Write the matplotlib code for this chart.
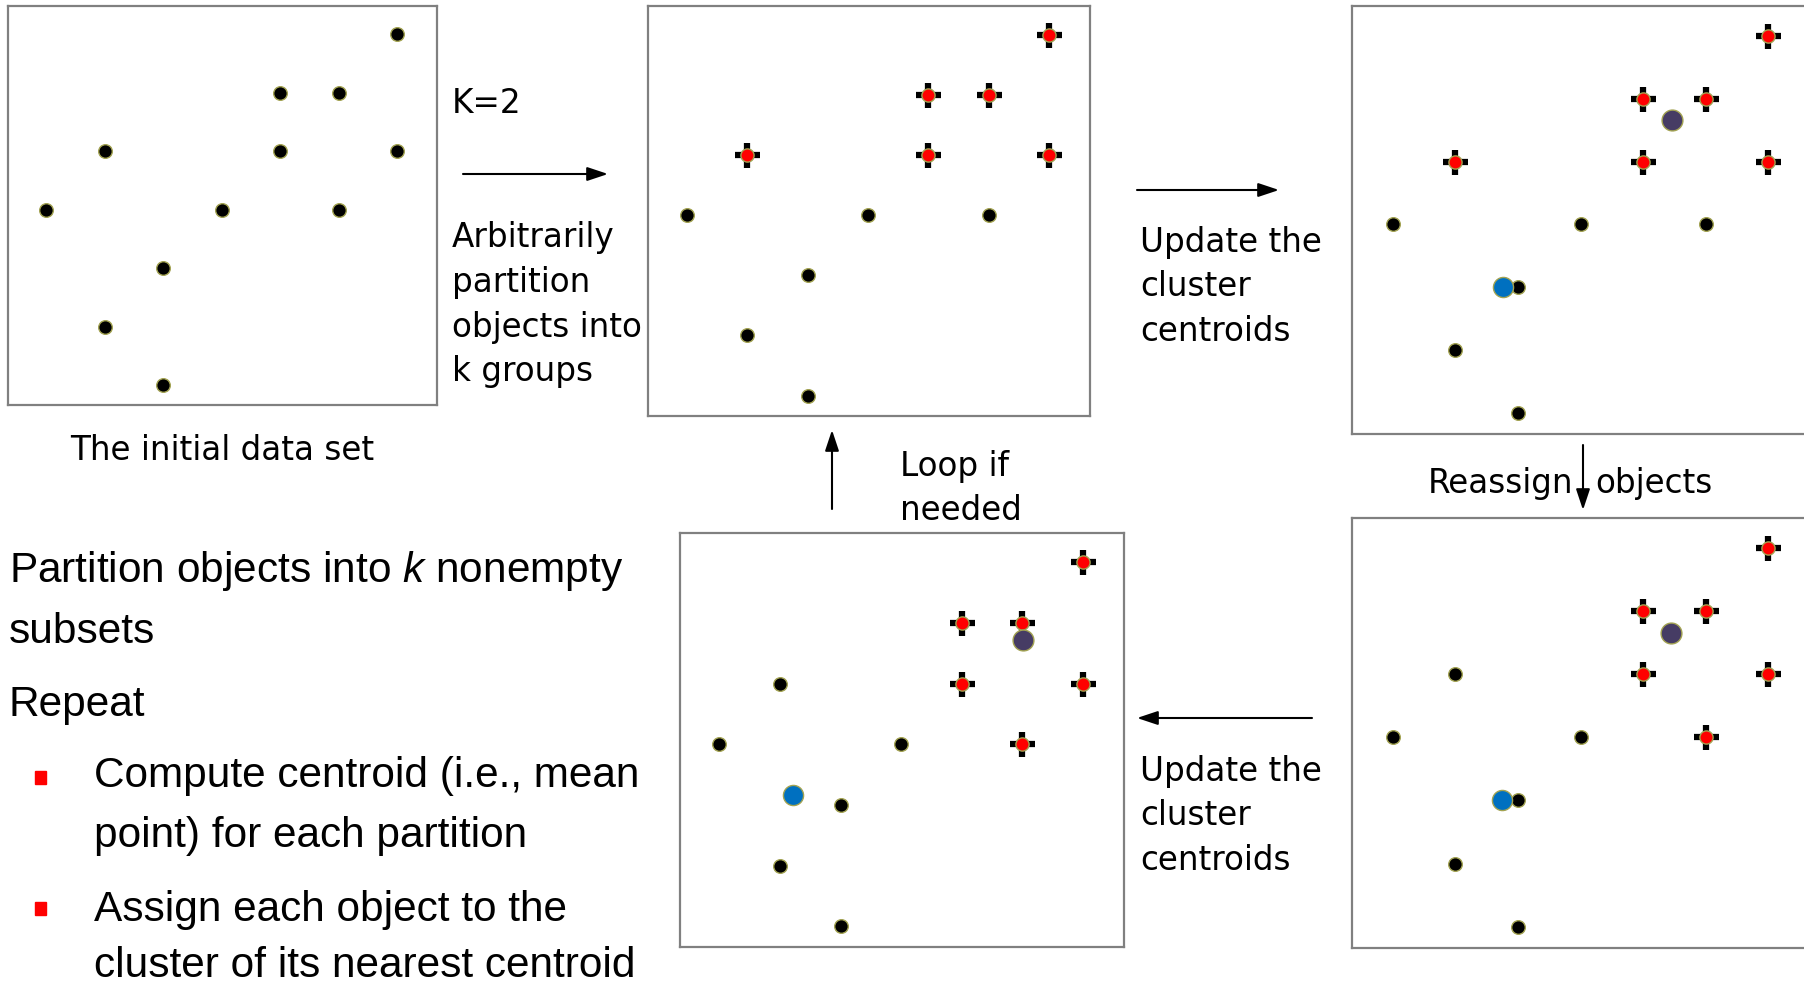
import matplotlib
matplotlib.use('Agg')
import matplotlib.pyplot as plt
from matplotlib.patches import Rectangle

W, H = 1804, 985

# grid positions of the 12 objects (column, row counted from the top)
pts_x = [6, 4, 5, 1, 4, 6, 0, 3, 5, 2, 1, 2]
pts_y = [0, 1, 1, 2, 2, 2, 3, 3, 3, 4, 5, 6]

# cluster of each object: 1 = red cluster, 0 = black cluster, None = unassigned
labels_initial = [None] * 12
labels_first = [1, 1, 1, 1, 1, 1, 0, 0, 0, 0, 0, 0]
labels_reassigned = [1, 1, 1, 0, 1, 1, 0, 0, 1, 0, 0, 0]

# centroids (dark, blue)
cent_update1_x = [4.46, 1.76]
cent_update1_y = [1.34, 3.99]
cent_reassign_x = [4.45, 1.75]
cent_reassign_y = [1.34, 4.00]
cent_update2_x = [5.01, 1.22]
cent_update2_y = [1.29, 3.83]

plt.rcParams['mathtext.fontset'] = 'custom'
plt.rcParams['mathtext.it'] = 'Liberation Sans:italic'
plt.rcParams['mathtext.rm'] = 'Liberation Sans'

LABEL_FONT = dict(family='DejaVu Sans', size=23.5, color='black')
BODY_FONT = dict(family='Liberation Sans', size=30.5, color='black')
EDGE = '#a3a352'

fig = plt.figure(figsize=(W / 100, H / 100), dpi=100)
fig.patch.set_facecolor('white')

# background axes in pixel coordinates for texts and arrows
bg = fig.add_axes([0, 0, 1, 1], zorder=0)
bg.set_xlim(0, W)
bg.set_ylim(H, 0)
bg.axis('off')


def panel(left, top, width, height):
    ax = fig.add_axes([left / W, 1 - (top + height) / H, width / W, height / H], zorder=2)
    ax.set_xlim(-0.65, 6.68)
    ax.set_ylim(6.34, -0.48)
    ax.set_xticks([])
    ax.set_yticks([])
    for s in ax.spines.values():
        s.set_color('#808080')
        s.set_linewidth(1.6)
    return ax


def draw_points(ax, labels):
    for x, y, lab in zip(pts_x, pts_y, labels):
        if lab == 1:
            ax.plot(x, y, marker='+', ms=18, mew=4.5, color='black', clip_on=False)
            ax.plot(x, y, 'o', ms=9.5, mfc='red', mec=EDGE, mew=1.0, clip_on=False)
        else:
            ax.plot(x, y, 'o', ms=9.8, mfc='black', mec=EDGE, mew=1.0, clip_on=False)


def draw_centroids(ax, cx, cy):
    ax.plot(cx[0], cy[0], 'o', ms=15, mfc='#463c64', mec=EDGE, mew=1.0, zorder=5)
    ax.plot(cx[1], cy[1], 'o', ms=14.5, mfc='#0070c0', mec=EDGE, mew=1.0, zorder=5)


ax1 = panel(8, 6, 429, 399)
draw_points(ax1, labels_initial)

ax2 = panel(648, 6, 442, 410)
draw_points(ax2, labels_first)

ax3 = panel(1352, 6, 459, 428)
draw_points(ax3, labels_first)
draw_centroids(ax3, cent_update1_x, cent_update1_y)

ax4 = panel(1352, 518, 459, 430)
draw_points(ax4, labels_reassigned)
draw_centroids(ax4, cent_reassign_x, cent_reassign_y)

ax5 = panel(680, 533, 444, 414)
draw_points(ax5, labels_reassigned)
draw_centroids(ax5, cent_update2_x, cent_update2_y)


def arrow(x0, y0, x1, y1):
    bg.annotate('', xy=(x1, y1), xytext=(x0, y0),
                arrowprops=dict(arrowstyle='-|>,head_length=0.6,head_width=0.2',
                                mutation_scale=21, lw=1.5, color='black',
                                shrinkA=0, shrinkB=0))


def lines(x, y0, texts, step=44.5, **kw):
    for i, t in enumerate(texts):
        bg.text(x, y0 + i * step, t, va='baseline', ha='left', **kw)


# top row annotations
bg.text(452, 113, 'K=2', va='baseline', **LABEL_FONT)
arrow(463, 174, 608, 174)
lines(452, 247.5, ['Arbitrarily', 'partition', 'objects into', 'k groups'], **LABEL_FONT)
bg.text(222, 460, 'The initial data set', ha='center', va='baseline', **LABEL_FONT)

arrow(1137, 190, 1279, 190)
lines(1140, 252, ['Update the', 'cluster', 'centroids'], **LABEL_FONT)

# reassign step
bg.text(1428, 493, 'Reassign', va='baseline', **LABEL_FONT)
arrow(1583, 445, 1583, 510)
bg.text(1595, 493, 'objects', va='baseline', **LABEL_FONT)

# bottom update step
arrow(1312, 718, 1137, 718)
lines(1140, 780.5, ['Update the', 'cluster', 'centroids'], **LABEL_FONT)

# loop back
arrow(832, 509, 832, 430)
lines(900, 476, ['Loop if', 'needed'], step=43.5, **LABEL_FONT)

# algorithm summary
bg.text(9, 582, r'Partition objects into $\mathit{k}$ nonempty', va='baseline', **BODY_FONT)
bg.text(9, 643, 'subsets', va='baseline', **BODY_FONT)
bg.text(9, 716, 'Repeat', va='baseline', **BODY_FONT)
bg.add_patch(Rectangle((35, 771), 11, 13, color='red'))
bg.text(94, 787, 'Compute centroid (i.e., mean', va='baseline', **BODY_FONT)
bg.text(94, 847, 'point) for each partition', va='baseline', **BODY_FONT)
bg.add_patch(Rectangle((35, 902), 11, 13, color='red'))
bg.text(94, 921, 'Assign each object to the', va='baseline', **BODY_FONT)
bg.text(94, 977, 'cluster of its nearest centroid', va='baseline', **BODY_FONT)

fig.savefig('out.png', dpi=100)
